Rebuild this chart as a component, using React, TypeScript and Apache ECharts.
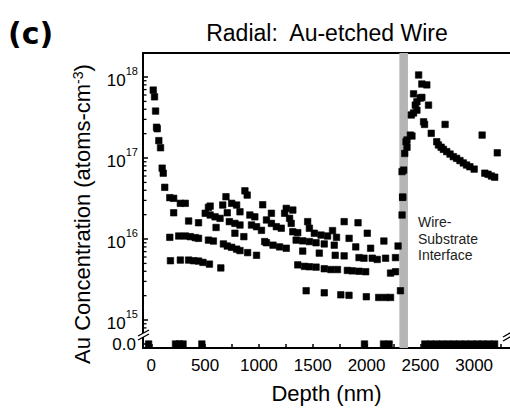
import React, { useEffect, useRef } from 'react';
import * as echarts from 'echarts';

// ---- axis settings ----
const X_MIN = -77;
const X_MAX = 3333;
const Y_MIN = 6.92e14;
const Y_MAX = 1.98e18;
const xTickValues = [0, 250, 500, 750, 1000, 1250, 1500, 1750, 2000, 2250, 2500, 2750, 3000, 3250];
const xLabelValues = [0, 500, 1000, 1500, 2000, 2500, 3000];
const yMinorTickValues = [
  7e14, 8e14, 9e14,
  2e15, 3e15, 4e15, 5e15, 6e15, 7e15, 8e15, 9e15,
  2e16, 3e16, 4e16, 5e16, 6e16, 7e16, 8e16, 9e16,
  2e17, 3e17, 4e17, 5e17, 6e17, 7e17, 8e17, 9e17,
];
const interfaceBand = [2305, 2385];

// ---- data: [depth (nm), Au concentration (atoms/cm^3)] ----
const surfaceDecay = [
  [18, 6.9e17], [30, 5.7e17], [40, 3.8e17], [49, 2.4e17], [55, 2.3e17], [70, 1.64e17],
  [86, 1.34e17], [101, 7.5e16], [111, 6.5e16], [125, 4.35e16],
];

const profileA = [
  [172, 3.24e16], [208, 3.18e16], [270, 2.76e16], [316, 2.76e16], [208, 2.11e16], [347, 1.67e16],
  [439, 1.59e16], [501, 2.08e16], [531, 2.46e16], [547, 2.55e16], [547, 1.98e16], [593, 1.88e16],
  [602, 1.39e16], [639, 1.8e16], [664, 2.63e16], [694, 3.33e16], [706, 2.11e16], [725, 1.64e16],
  [747, 2.76e16], [777, 1.56e16], [777, 1.18e16], [793, 2.63e16], [824, 2.17e16], [824, 1.49e16],
  [860, 1.07e16], [870, 3.94e16], [891, 3.49e16], [916, 1.98e16], [931, 1.49e16], [962, 1.88e16],
  [978, 1.42e16], [1024, 1.28e16], [1035, 2.65e16], [1070, 1.72e16], [1116, 2.08e16], [1116, 1.56e16],
  [1162, 1.42e16], [1208, 1.36e16], [1239, 2.08e16], [1254, 2.39e16], [1285, 1.8e16], [1300, 1.56e16],
  [1315, 2.28e16], [1315, 1.23e16], [1361, 1.2e16], [1453, 1.64e16], [1469, 1.36e16], [1515, 1.18e16],
  [1577, 1.12e16], [1638, 1.09e16], [1684, 1.27e16], [1721, 1.05e16], [1792, 1.64e16], [1838, 1.02e16],
  [1921, 1.59e16], [2007, 1.18e16], [2161, 9.45e15], [2293, 8.2e15], [2330, 1.98e16], [2336, 3.27e16],
  [2330, 6.8e16],
];

const profileB = [
  [172, 1.05e16], [255, 1.09e16], [316, 1.09e16], [362, 1.07e16], [409, 1.04e16], [439, 1.02e16],
  [531, 9.7e15], [577, 9.45e15], [670, 8.7e15], [706, 8.2e15], [747, 7.9e15], [793, 7.5e15],
  [824, 7.2e15], [895, 6.8e15], [978, 6.3e15], [1054, 9.3e15], [1070, 9.0e15], [1131, 8.4e15],
  [1192, 8.0e15], [1254, 7.7e15], [1346, 9.7e15], [1407, 9.5e15], [1469, 9.3e15], [1531, 9.0e15],
  [1607, 8.7e15], [1700, 8.4e15], [1407, 7.1e15], [1561, 6.7e15], [1709, 6.3e15], [1792, 6.2e15],
  [1900, 8.0e15], [2038, 7.7e15], [1930, 5.9e15], [1976, 5.8e15], [2053, 5.8e15], [2099, 5.6e15],
  [2177, 5.8e15], [2269, 5.9e15],
];

const profileC = [
  [178, 5.4e15], [270, 5.5e15], [347, 5.5e15], [393, 5.4e15], [439, 5.35e15], [480, 5.15e15],
  [540, 4.9e15], [646, 4.4e15], [1361, 4.8e15], [1423, 4.6e15], [1469, 4.55e15], [1531, 4.5e15],
  [1607, 4.3e15], [1669, 4.2e15], [1730, 4.2e15], [1822, 4.1e15], [1868, 4.05e15], [1930, 4.0e15],
  [1992, 3.95e15], [2223, 3.8e15], [2269, 3.95e15],
];

const profileD = [
  [1439, 2.3e15], [1607, 2.17e15], [1761, 2.05e15], [1837, 2.02e15], [1998, 1.94e15],
  [2113, 1.9e15], [2175, 1.9e15], [2223, 1.9e15], [2315, 2.3e15],
];

const substrate = [
  [2336, 3.3e16], [2345, 7.1e16], [2355, 1.14e17], [2367, 1.59e17], [2376, 1.67e17], [2376, 1.36e17],
  [2407, 1.92e17], [2422, 1.87e17], [2416, 3.4e17], [2437, 3.6e17], [2468, 3.9e17], [2453, 4.5e17],
  [2468, 4.95e17], [2499, 5.5e17], [2514, 5.6e17], [2437, 6.2e17], [2484, 1.06e18], [2514, 8.2e17],
  [2560, 8.0e17], [2576, 4.5e17], [2530, 2.8e17], [2539, 2.6e17], [2601, 2.02e17], [2652, 1.59e17],
  [2668, 1.45e17], [2693, 1.36e17], [2714, 1.28e17], [2745, 1.2e17], [2776, 1.12e17], [2806, 1.04e17],
  [2837, 9.9e16], [2868, 9.3e16], [2899, 8.7e16], [2929, 8.2e16], [2960, 7.8e16], [3000, 7.3e16],
  [2730, 2.6e17], [3074, 1.92e17], [3215, 1.16e17], [3099, 6.5e16], [3129, 6.3e16], [3160, 6.0e16],
  [3191, 5.8e16],
];

const zeroPoints = [
  [-25, 0], [225, 0], [260, 0], [295, 0], [470, 0], [1981, 0], [2158, 0], [2210, 0],
  [2542, 0], [2596, 0], [2650, 0], [2704, 0], [2758, 0], [2812, 0], [2866, 0], [2920, 0],
  [2974, 0], [3028, 0], [3082, 0], [3136, 0], [3190, 0],
];

const FONT = '"Liberation Sans", Arial, Helvetica, sans-serif';
const BLACK = '#000';
const BAND = '#b5b5b5';

const scatter = (name: string, data: number[][], grid: number) => ({
  name,
  type: 'scatter',
  xAxisIndex: grid,
  yAxisIndex: grid,
  symbol: 'rect',
  symbolSize: 6.5,
  itemStyle: { color: BLACK, borderColor: BLACK, borderWidth: 0.6, opacity: 1 },
  data,
  z: 3,
  clip: false,
  silent: true,
});

const axisLineStyle = { color: BLACK, width: 2 };

const option: any = {
  animation: false,
  backgroundColor: '#fff',
  grid: [
    { left: 143, top: 53, width: 368, height: 280 },
    { left: 143, top: 333, width: 368, height: 15 },
  ],
  xAxis: [
    {
      gridIndex: 0, type: 'value', min: X_MIN, max: X_MAX, position: 'top',
      axisLine: { show: true, onZero: false, lineStyle: axisLineStyle },
      axisTick: { show: false }, axisLabel: { show: false }, splitLine: { show: false },
    },
    {
      gridIndex: 1, type: 'value', min: X_MIN, max: X_MAX, splitNumber: 7, position: 'bottom',
      axisLine: { show: true, onZero: false, lineStyle: axisLineStyle },
      axisTick: { show: true, inside: true, length: 4, customValues: xTickValues, lineStyle: { color: BLACK, width: 1.5 } },
      axisLabel: {
        customValues: xLabelValues, margin: 9, fontSize: 17, color: BLACK, fontFamily: FONT,
        formatter: (v: number) => String(Math.round(v)),
      },
      splitLine: { show: false },
      name: 'Depth (nm)', nameLocation: 'middle', nameGap: 34,
      nameTextStyle: { fontSize: 22, fontFamily: FONT, color: BLACK },
    },
  ],
  yAxis: [
    {
      gridIndex: 0, type: 'log', logBase: 10, min: Y_MIN, max: Y_MAX,
      axisLine: { show: true, onZero: false, lineStyle: axisLineStyle },
      axisTick: { show: true, inside: true, length: 5, lineStyle: { color: BLACK, width: 1.5 } },
      axisLabel: {
        margin: 5,
        formatter: (v: number) => {
          const e = Math.log10(v);
          const r = Math.round(e);
          return Math.abs(e - r) < 1e-6 ? `{b|10}{s|${r}}` : '';
        },
        rich: {
          b: { fontSize: 17, fontFamily: FONT, color: BLACK, padding: [6, 0, 0, 0] },
          s: { fontSize: 11, fontFamily: FONT, color: BLACK, verticalAlign: 'top' },
        },
      },
      splitLine: { show: false },
    },
    {
      gridIndex: 1, type: 'value', min: -4, max: 11,
      axisLine: { show: true, onZero: false, lineStyle: axisLineStyle },
      axisTick: { show: true, inside: true, length: 5, customValues: [0], lineStyle: { color: BLACK, width: 1.5 } },
      axisLabel: { customValues: [0], margin: 7, fontSize: 17, color: BLACK, fontFamily: FONT, formatter: () => '0.0' },
      splitLine: { show: false },
    },
  ],
  series: [
    {
      type: 'scatter', xAxisIndex: 0, yAxisIndex: 0, data: [], z: 1, silent: true,
      markArea: { silent: true, itemStyle: { color: BAND }, data: [[{ xAxis: interfaceBand[0] }, { xAxis: interfaceBand[1] }]] },
    },
    {
      type: 'scatter', xAxisIndex: 1, yAxisIndex: 1, data: [], z: 1, silent: true,
      markArea: { silent: true, itemStyle: { color: BAND }, data: [[{ xAxis: interfaceBand[0] }, { xAxis: interfaceBand[1] }]] },
    },
    {
      type: 'custom', xAxisIndex: 0, yAxisIndex: 0, silent: true, z: 4,
      data: yMinorTickValues.map((v) => [X_MIN, v]),
      renderItem: (params: any, api: any) => {
        const p = api.coord([api.value(0), api.value(1)]);
        return {
          type: 'line',
          shape: { x1: p[0], y1: p[1], x2: p[0] + 3.5, y2: p[1] },
          style: { stroke: BLACK, lineWidth: 1.3 },
        };
      },
    },
    scatter('surface', surfaceDecay, 0),
    scatter('profileA', profileA, 0),
    scatter('profileB', profileB, 0),
    scatter('profileC', profileC, 0),
    scatter('profileD', profileD, 0),
    scatter('substrate', substrate, 0),
    scatter('zero', zeroPoints, 1),
  ],
  graphic: [
    {
      type: 'text', x: 8, y: 33, z: 10,
      style: { text: '(c)', fontSize: 30, fontWeight: 'bold', fontFamily: '"DejaVu Sans", Verdana, sans-serif', fill: BLACK, textVerticalAlign: 'middle', verticalAlign: 'middle' },
    },
    {
      type: 'text', x: 327, y: 33, z: 10,
      style: { text: 'Radial:  Au-etched Wire', fontSize: 23, fontFamily: FONT, fill: BLACK, align: 'center', textAlign: 'center', verticalAlign: 'middle', textVerticalAlign: 'middle' },
    },
    {
      type: 'text', x: 82, y: 214, rotation: Math.PI / 2, z: 10,
      style: {
        text: 'Au Concentration (atoms-cm{s|-3})',
        fontSize: 22, fontFamily: FONT, fill: BLACK,
        align: 'center', textAlign: 'center', verticalAlign: 'middle', textVerticalAlign: 'middle',
        rich: { s: { fontSize: 14, fontFamily: FONT, fill: BLACK, color: BLACK, verticalAlign: 'top' } },
      },
    },
    {
      type: 'text', x: 418, y: 214, z: 10,
      style: { text: 'Wire-\nSubstrate\nInterface', fontSize: 14, lineHeight: 16.5, fontFamily: FONT, fill: '#222', verticalAlign: 'top', textVerticalAlign: 'top' },
    },
    // axis-break marks
    {
      type: 'polygon', z: 20, silent: true,
      shape: { points: [[138, 336], [149, 330], [149, 334], [138, 340]] },
      style: { fill: '#fff', stroke: 'none' },
    },
    { type: 'line', z: 21, silent: true, shape: { x1: 138, y1: 336, x2: 149, y2: 330 }, style: { stroke: BLACK, lineWidth: 1.3 } },
    { type: 'line', z: 21, silent: true, shape: { x1: 138, y1: 340, x2: 149, y2: 334 }, style: { stroke: BLACK, lineWidth: 1.3 } },
    { type: 'line', z: 21, silent: true, shape: { x1: 503, y1: 337, x2: 512, y2: 332 }, style: { stroke: BLACK, lineWidth: 1.3 } },
    { type: 'line', z: 21, silent: true, shape: { x1: 503, y1: 341, x2: 512, y2: 336 }, style: { stroke: BLACK, lineWidth: 1.3 } },
  ],
};

export default function App() {
  const ref = useRef<HTMLDivElement>(null);
  useEffect(() => {
    const chart = echarts.init(ref.current!, null, { renderer: 'svg' });
    chart.setOption(option);
    return () => chart.dispose();
  }, []);
  return (
    <div
      ref={ref}
      style={{ position: 'fixed', left: 0, top: 0, width: 510, height: 410, background: '#fff' }}
    />
  );
}
